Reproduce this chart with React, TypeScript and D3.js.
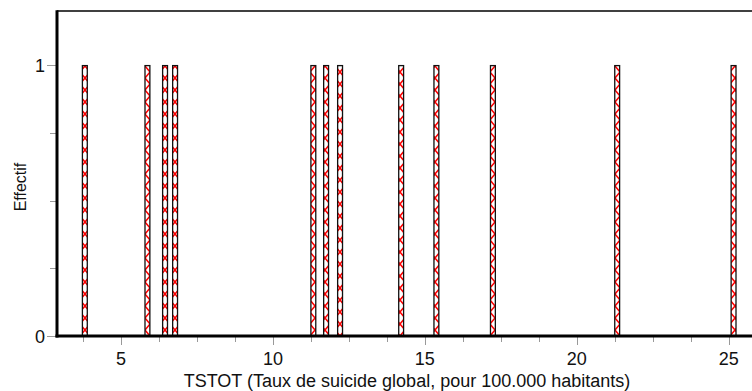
import { useEffect, useRef } from "react";
import * as d3 from "d3";

// histogram bins (centre of each bin) and their counts
const binCenters = [3.81, 5.87, 6.45, 6.78, 11.33, 11.75, 12.21, 14.22, 15.38, 17.24, 21.33, 25.16];
const counts = [1, 1, 1, 1, 1, 1, 1, 1, 1, 1, 1, 1];
const xTickLabels = [5, 10, 15, 20, 25];
const yTickLabels = [0, 1];
const xTitle = "TSTOT (Taux de suicide global, pour 100.000 habitants)";
const yTitle = "Effectif";

const App = () => {
  const svgRef = useRef<SVGSVGElement | null>(null);

  useEffect(() => {
    const w = 752;
    const h = 391;
    const svg = d3.select(svgRef.current);
    svg.selectAll("*").remove();

    const left = 57;
    const top = 11;
    const bottom = 336;
    const font = "Liberation Sans, Arial, sans-serif";

    // scales
    const xScale = d3.scaleLinear().domain([5, 25]).range([121, 728.7]);
    const yScale = d3.scaleLinear().domain([0, 1]).range([bottom, 65]);
    const binW = 0.2;

    // pattern for bar fill
    const defs = svg.append("defs");
    const pat = defs
      .append("pattern")
      .attr("id", "hatch")
      .attr("patternUnits", "userSpaceOnUse")
      .attr("width", 10)
      .attr("height", 12);
    pat.append("rect").attr("width", 10).attr("height", 12).attr("fill", "white");
    pat
      .append("path")
      .attr("d", "M0,0L10,12M10,0L0,12")
      .attr("stroke", "#ff0000")
      .attr("stroke-width", 1.5)
      .attr("fill", "none");

    // frame top line
    svg
      .append("line")
      .attr("x1", left)
      .attr("x2", w)
      .attr("y1", top)
      .attr("y2", top)
      .attr("stroke", "black")
      .attr("stroke-width", 1.5);

    // bars
    svg
      .selectAll(".bar")
      .data(binCenters)
      .join("rect")
      .attr("class", "bar")
      .attr("x", (d) => xScale(d - binW / 2) + 0.6)
      .attr("width", (d) => xScale(d + binW / 2) - xScale(d - binW / 2) - 1.2)
      .attr("y", (d, i) => yScale(counts[i]) + 0.6)
      .attr("height", (d, i) => yScale(0) - yScale(counts[i]) - 0.6)
      .attr("fill", "url(#hatch)")
      .attr("stroke", "#111")
      .attr("stroke-width", 1.3);

    // x ticks (minor every 1.25)
    const xTicks = d3.range(3.75, 25.8, 1.25);
    svg
      .selectAll(".xtick")
      .data(xTicks)
      .join("line")
      .attr("class", "xtick")
      .attr("x1", (d) => Math.round(xScale(d)) + 0.5)
      .attr("x2", (d) => Math.round(xScale(d)) + 0.5)
      .attr("y1", bottom)
      .attr("y2", (d) => (xTickLabels.includes(d) ? 345 : 342))
      .attr("stroke", "#999")
      .attr("stroke-width", 1);

    svg
      .selectAll(".xlab")
      .data(xTickLabels)
      .join("text")
      .attr("class", "xlab")
      .attr("x", (d) => xScale(d))
      .attr("y", 365)
      .attr("text-anchor", "middle")
      .attr("font-family", font)
      .attr("font-size", 18)
      .attr("fill", "#111")
      .text((d) => d);

    // y ticks (minor every 0.25)
    const yTicks = d3.range(0, 1.01, 0.25);
    svg
      .selectAll(".ytick")
      .data(yTicks)
      .join("line")
      .attr("class", "ytick")
      .attr("x1", (d) => (yTickLabels.includes(d) ? 47 : 50))
      .attr("x2", left)
      .attr("y1", (d) => Math.round(yScale(d)) + 0.5)
      .attr("y2", (d) => Math.round(yScale(d)) + 0.5)
      .attr("stroke", "#999")
      .attr("stroke-width", 1);

    svg
      .selectAll(".ylab")
      .data(yTickLabels)
      .join("text")
      .attr("class", "ylab")
      .attr("x", 45)
      .attr("y", (d) => yScale(d) + 6.5)
      .attr("text-anchor", "end")
      .attr("font-family", font)
      .attr("font-size", 18)
      .attr("fill", "#111")
      .text((d) => d);

    // axes lines
    svg
      .append("line")
      .attr("x1", left)
      .attr("x2", left)
      .attr("y1", top - 0.75)
      .attr("y2", bottom + 1.5)
      .attr("stroke", "black")
      .attr("stroke-width", 3);
    svg
      .append("line")
      .attr("x1", left - 1.5)
      .attr("x2", w)
      .attr("y1", bottom)
      .attr("y2", bottom)
      .attr("stroke", "black")
      .attr("stroke-width", 3);

    // titles
    svg
      .append("text")
      .attr("x", 407)
      .attr("y", 387)
      .attr("text-anchor", "middle")
      .attr("font-family", font)
      .attr("font-size", 18)
      .attr("fill", "#111")
      .text(xTitle);
    svg
      .append("text")
      .attr("transform", `translate(26,187) rotate(-90)`)
      .attr("text-anchor", "middle")
      .attr("font-family", font)
      .attr("font-size", 16)
      .attr("fill", "#111")
      .text(yTitle);

    svg.attr("width", w).attr("height", h);
  }, []);

  return (
    <svg
      ref={svgRef}
      width={752}
      height={391}
      style={{ position: "absolute", left: 0, top: 0, background: "white" }}
    ></svg>
  );
};

export default App;
